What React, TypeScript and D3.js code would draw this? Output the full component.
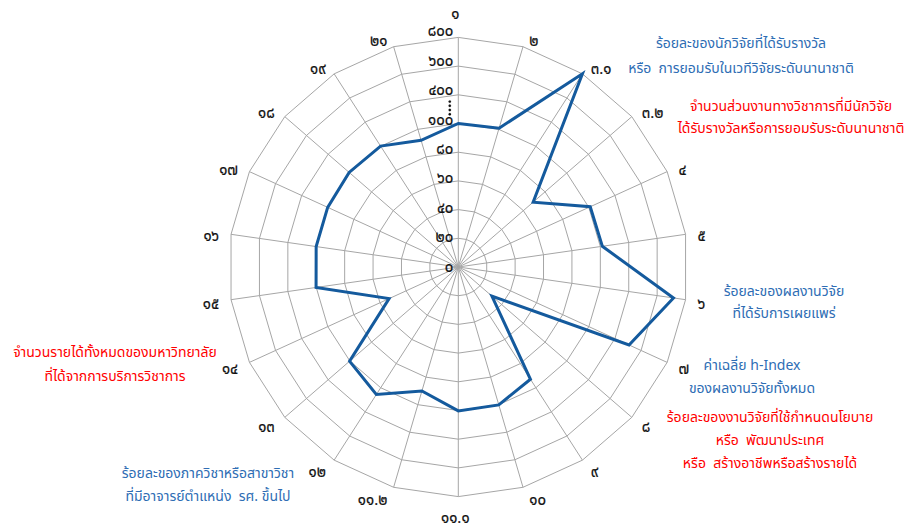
import { useMemo } from "react";
import * as d3 from "d3";

// axis names (Thai numerals), clockwise from the top
const axisLabels = [
  "๑", "๒", "๓.๑", "๓.๒", "๔", "๕", "๖", "๗", "๘", "๙", "๑๐",
  "๑๑.๑", "๑๑.๒", "๑๒", "๑๓", "๑๔", "๑๕", "๑๖", "๑๗", "๑๘", "๑๙", "๒๑",
];

// values
const scores = [
  100, 112, 800, 69, 116, 121, 715, 508, 31, 93, 102,
  104, 90, 185, 104, 53, 102, 101, 101, 110, 102, 92,
];

// the radial axis is broken after 100
const tickValues = [0, 20, 40, 60, 80, 100, 400, 600, 800];
const tickLabels = ["๐", "๒๐", "๔๐", "๖๐", "๘๐", "๑๐๐", "๔๐๐", "๖๐๐", "๘๐๐"];

const noteTexts = [
  ["ร้อยละของนักวิจัยที่ได้รับรางวัล", "หรือ  การยอมรับในเวทีวิจัยระดับนานาชาติ"],
  ["จำนวนส่วนงานทางวิชาการที่มีนักวิจัย", "ได้รับรางวัลหรือการยอมรับระดับนานาชาติ"],
  ["ร้อยละของผลงานวิจัย", "ที่ได้รับการเผยแพร่"],
  ["ค่าเฉลี่ย h-Index", "ของผลงานวิจัยทั้งหมด"],
  ["ร้อยละของงานวิจัยที่ใช้กำหนดนโยบาย", "หรือ  พัฒนาประเทศ", "หรือ  สร้างอาชีพหรือสร้างรายได้"],
  ["จำนวนรายได้ทั้งหมดของมหาวิทยาลัย", "ที่ได้จากการบริการวิชาการ"],
  ["ร้อยละของภาควิชาหรือสาขาวิชา", "ที่มีอาจารย์ตำแหน่ง  รศ. ขึ้นไป"],
];
const noteColors = ["#2E6DB4", "#FF0000", "#2E6DB4", "#2E6DB4", "#FF0000", "#FF0000", "#2E6DB4"];

// layout for the notes: centre x, first baseline y, line gap
const notePos = [
  { x: 741, y: 48, gap: 25 },
  { x: 791, y: 111, gap: 22 },
  { x: 784, y: 296, gap: 22 },
  { x: 752, y: 370, gap: 23 },
  { x: 770, y: 422, gap: 23 },
  { x: 115, y: 357, gap: 24 },
  { x: 208, y: 478, gap: 23 },
];

const width = 912;
const height = 530;
const cx = 458.3;
const cy = 267;
const step = 28.7;
const font = "Tahoma, 'Noto Sans Thai', 'Noto Sans', 'DejaVu Sans', sans-serif";

export default function App() {
  const n = axisLabels.length;

  const angle = d3
    .scaleLinear()
    .domain([0, n])
    .range([0, 2 * Math.PI]);

  const r = d3
    .scaleLinear()
    .domain(tickValues)
    .range(tickValues.map((_, i) => i * step));

  const R = r(800);

  const pt = (i: number, rad: number): [number, number] => [
    cx + rad * Math.sin(angle(i)),
    cy - rad * Math.cos(angle(i)),
  ];

  const rings = useMemo(
    () =>
      tickValues.slice(1).map((v) => {
        const pts = d3.range(n).map((i) => pt(i, r(v)));
        return d3.line()(pts.concat([pts[0]])) as string;
      }),
    [],
  );

  const dataPath = useMemo(() => {
    const line = d3
      .lineRadial<number>()
      .angle((_, i) => angle(i))
      .radius((d) => r(d))
      .curve(d3.curveLinearClosed);
    return line(scores) as string;
  }, []);

  const axisLabelPos = axisLabels.map((lab, i) => {
    const s = Math.sin(angle(i));
    const c = Math.cos(angle(i));
    const [ox, oy] = pt(i, R);
    let anchor = "middle";
    let x = ox;
    let y = oy;
    if (Math.abs(s) < 0.05) {
      // top / bottom labels sit centred above or below the spoke
      y = c > 0 ? oy - 23 : oy + 22;
      x = ox - 3;
    } else {
      anchor = s > 0 ? "start" : "end";
      x = ox + Math.sign(s) * (4 + 8 * Math.abs(s));
      y = oy + 3 - (c > 0 ? 9 : 11) * c;
    }
    return { lab, x, y, anchor };
  });

  const tickY = (i: number) => cy - r(tickValues[i]) - i * 0.7;

  return (
    <svg
      width={width}
      height={height}
      style={{ position: "absolute", left: 0, top: 0, background: "#fff" }}
    >
      <rect width={width} height={height} fill="#fff" />

      {/* grid */}
      <g fill="none" stroke="#A6A6A6" strokeWidth={1}>
        {rings.map((d, i) => (
          <path key={i} d={d} />
        ))}
        {d3.range(n).map((i) => {
          const [x, y] = pt(i, R);
          return <line key={i} x1={cx} y1={cy} x2={x} y2={y} />;
        })}
      </g>

      {/* series */}
      <path
        d={dataPath}
        transform={`translate(${cx},${cy})`}
        fill="none"
        stroke="#145A9D"
        strokeWidth={3}
        strokeLinejoin="miter"
      />

      {/* radial tick labels */}
      <g
        fontFamily={font}
        fontSize={15}
        fill="#111"
        stroke="#111"
        strokeWidth={0.2}
        textAnchor="end"
      >
        {tickLabels.map((t, i) => (
          <text key={t} x={cx - 5} y={tickY(i)} dominantBaseline="central">
            {t}
          </text>
        ))}
        {d3.range(4).map((k) => (
          <circle
            key={k}
            cx={cx - 8.5}
            cy={tickY(6) + 11 + k * 4.2}
            r={1.2}
            fill="#111"
          />
        ))}
      </g>

      {/* axis labels */}
      <g
        fontFamily={font}
        fontSize={15}
        fill="#111"
        stroke="#111"
        strokeWidth={0.2}
      >
        {axisLabelPos.map((d) => (
          <text
            key={d.lab}
            x={d.x}
            y={d.y}
            textAnchor={d.anchor}
            dominantBaseline="central"
          >
            {d.lab}
          </text>
        ))}
      </g>

      {/* notes */}
      <g fontFamily={font} fontSize={14} textAnchor="middle">
        {noteTexts.map((lines, k) => (
          <text key={k} fill={noteColors[k]}>
            {lines.map((ln, j) => (
              <tspan
                key={j}
                x={notePos[k].x}
                y={notePos[k].y + j * notePos[k].gap}
                style={{ whiteSpace: "pre" }}
              >
                {ln}
              </tspan>
            ))}
          </text>
        ))}
      </g>
    </svg>
  );
}
